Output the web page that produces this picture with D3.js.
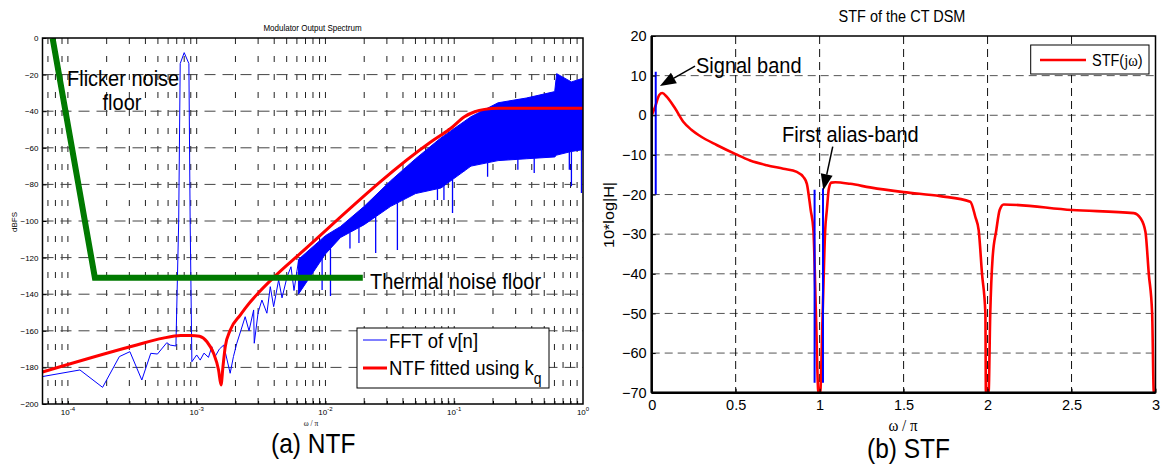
<!DOCTYPE html>
<html>
<head>
<meta charset="utf-8">
<script src="https://cdn.jsdelivr.net/npm/d3@7"></script>
<style>
  body { margin: 0; background: #fff; }
  text { font-family: "Liberation Sans", Arial, sans-serif; fill: #000; }
</style>
</head>
<body>
<svg id="chart" width="1161" height="464"></svg>
<script>
// ---------- (a) NTF panel : x = omega/pi (log), y = dBFS ----------
var ntfPoints = [[6.35e-5,-182.5],[3.2e-4,-168.3],[5.5e-4,-164],[7.5e-4,-162.6],[9e-4,-162.5],
  [1.052e-3,-163],[1.202e-3,-166],[1.352e-3,-172.3],[1.479e-3,-181.4],[1.545e-3,-189.6],
  [1.6e-3,-179.6],[1.667e-3,-168.7],[1.824e-3,-159.6],[2.18e-3,-151.4],[2.38e-3,-147.7],
  [3.97e-3,-130.8],[6.38e-3,-117.7],[0.0661,-56.7],[0.0942,-49.3],[0.120,-43],
  [0.1445,-40.3],[0.172,-39],[0.219,-38.4],[1,-38.4]];

var fftLowPoints = [[6.35e-5,-185],[1.24e-4,-181.4],[1.86e-4,-190.9],[2.51e-4,-174.1],[3.03e-4,-171.4],
  [3.75e-4,-186.9],[4.4e-4,-172.3],[4.96e-4,-172.7],[5.86e-4,-166.5],[6.22e-4,-167.8],[6.9e-4,-168.3],
  [7.25e-4,-100],[7.45e-4,-14],[8.0e-4,-8],[8.7e-4,-14],[8.9e-4,-100],[9.18e-4,-176.9],
  [1.0e-3,-173.2],[1.065e-3,-176],[1.14e-3,-172.2],[1.235e-3,-174.5],[1.31e-3,-168.7],[1.39e-3,-174.1],
  [1.5e-3,-170],[1.62e-3,-167.8],[1.82e-3,-183.2],[1.93e-3,-174.1],[2.05e-3,-166.8],[2.2e-3,-160],
  [2.38e-3,-152.3],[2.55e-3,-160],[2.77e-3,-148.6],[2.8e-3,-166.8],[3.0e-3,-150],[3.21e-3,-143.2],
  [3.51e-3,-150.4],[3.73e-3,-135.9],[3.96e-3,-146.8],[4.33e-3,-132.2],[4.6e-3,-142],[5.04e-3,-130.4],
  [5.4e-3,-125],[5.7e-3,-138],[6.19e-3,-121.3]];

// dense part of the FFT, read as upper / lower envelope
var noiseFreq   = [6.17e-3, 0.01, 0.0131, 0.02, 0.0321, 0.0501, 0.0787, 0.135, 0.219, 0.363, 0.603, 0.624, 0.813, 1];
var noiseTop    = [-121, -108, -103, -92, -78, -66, -54.6, -43, -35.4, -32.8, -29.3, -19.5, -24, -22];
var noiseBottom = [-140, -118, -109, -102, -92, -85, -82, -70, -67, -66, -65, -64, -62, -61];
var noiseSpikes = [[9.42e-3,-137.7],[0.01094,-141],[0.0155,-115],[0.0182,-112],[0.02455,-117.5],
  [0.0362,-115.8],[0.0741,-88.5],[0.0832,-88.5],[0.097,-95.6],[0.119,-72],[0.1816,-75.8],
  [0.312,-72],[0.418,-73.8],[0.783,-72],[0.813,-81],[0.973,-84.7]];

var floorPoints = [[7.6e-5,0],[1.62e-4,-131],[0.0195,-131]];

var ntfYTicks = d3.range(0, -201, -20);
var ntfXTicks = [1e-4, 1e-3, 1e-2, 1e-1, 1];
var ntfXExp = ["-4", "-3", "-2", "-1", "0"];

// ---------- (b) STF panel : x = omega/pi, y = 10*log|H| ----------
var stfPoints = [[0,0],[0.02,2.1],[0.045,5.1],[0.063,5.6],[0.089,4.7],[0.139,1.75],[0.188,-1.63],
  [0.238,-3.72],[0.288,-5.23],[0.387,-7.5],[0.5,-9.8],[0.586,-11.4],[0.685,-12.6],[0.784,-13.5],[0.864,-14.3],
  [0.904,-15.6],[0.924,-17.3],[0.947,-24],[0.963,-29],[0.978,-50],[0.993,-70],[1.003,-70],
  [1.018,-50],[1.033,-29],[1.043,-23.9],[1.055,-18.5],[1.07,-17],[1.093,-16.9],[1.182,-17.3],
  [1.3,-18.2],[1.5,-19.4],[1.718,-20.4],[1.897,-21.8],[1.927,-25.6],[1.947,-29],[1.967,-40],
  [1.987,-50],[1.99,-70],[2.006,-70],[2.016,-50],[2.03,-36],[2.052,-29],[2.072,-23.9],
  [2.096,-22.5],[2.503,-23.9],[2.871,-24.7],[2.911,-26],[2.94,-29.4],[2.96,-40],[2.98,-50],
  [2.99,-70],[3,-70]];

var bandMarkers = [[0.024, 11, -20], [0.97, -18.8, -67.5], [1.02, -18.4, -67.5]];

var stfYTicks = d3.range(20, -71, -10);
var stfXTicks = [0, 0.5, 1, 1.5, 2, 2.5, 3];

var stfNotes = ["Signal band", "First alias-band"];
var stfNoteTail = [[0.258, 12.4], [1.078, -7.9]];
var stfNoteHead = [[0.049, 7.4], [1.022, -18.9]];

// ---------- setup ----------
var svg = d3.select("#chart");
svg.append("rect").attr("width", 1161).attr("height", 464).attr("fill", "#fff");

var ax = d3.scaleLog().domain([6.35e-5, 1]).range([42.5, 583]);
var ay = d3.scaleLinear().domain([-200, 0]).range([404, 38]);
var bx = d3.scaleLinear().domain([0, 3]).range([651.7, 1155.5]);
var by = d3.scaleLinear().domain([-70, 20]).range([392.7, 36]);

// text slightly taller than wide, like the source image
function putText(g, x, y, str, size, anchor) {
  return g.append("text")
    .attr("transform", "translate(" + x + "," + y + ") scale(1,1.12)")
    .attr("font-size", size)
    .attr("text-anchor", anchor || "start")
    .text(str);
}

var defs = svg.append("defs");
defs.append("clipPath").attr("id", "clipA").append("rect")
  .attr("x", 42.5).attr("y", 38).attr("width", 583 - 42.5).attr("height", 404 - 38);
defs.append("clipPath").attr("id", "clipB").append("rect")
  .attr("x", 651.7).attr("y", 36).attr("width", 1155.5 - 651.7).attr("height", 392.7 - 36 + 2);

// ================= panel (a) =================
var pa = svg.append("g");

// grid: vertical at every log tick, horizontal every 20 dB
var minorX = [];
for (var d = -5; d <= 0; d++) {
  for (var k = 1; k <= 9; k++) {
    var v = k * Math.pow(10, d);
    if (v > 6.4e-5 && v < 1) minorX.push(v);
  }
}
pa.selectAll(".vgrid").data(minorX).enter().append("line")
  .attr("x1", function(d) { return ax(d); }).attr("x2", function(d) { return ax(d); })
  .attr("y1", 38).attr("y2", 404)
  .attr("stroke", "#222").attr("stroke-width", 1).attr("stroke-dasharray", "6,12");
pa.selectAll(".hgrid").data(ntfYTicks.filter(function(d) { return d < 0 && d > -200; })).enter().append("line")
  .attr("x1", 42.5).attr("x2", 583)
  .attr("y1", function(d) { return ay(d); }).attr("y2", function(d) { return ay(d); })
  .attr("stroke", "#444").attr("stroke-width", 1).attr("stroke-dasharray", "11,7");

var pac = pa.append("g").attr("clip-path", "url(#clipA)");

// FFT of v[n]
var bottomAt = d3.scaleLog().domain(noiseFreq).range(noiseBottom);
pac.append("path")
  .datum(d3.range(noiseFreq.length))
  .attr("d", d3.area()
    .x(function(i) { return ax(noiseFreq[i]); })
    .y0(function(i) { return ay(noiseBottom[i]); })
    .y1(function(i) { return ay(noiseTop[i]); }))
  .attr("fill", "#0000ff").attr("stroke", "#0000ff").attr("stroke-width", 1);
pac.selectAll(".spike").data(noiseSpikes).enter().append("line")
  .attr("x1", function(d) { return ax(d[0]); }).attr("x2", function(d) { return ax(d[0]); })
  .attr("y1", function(d) { return ay(bottomAt(d[0])); })
  .attr("y2", function(d) { return ay(d[1]); })
  .attr("stroke", "#0000ff").attr("stroke-width", 1.3);
pac.append("path")
  .datum(fftLowPoints)
  .attr("d", d3.line().x(function(d) { return ax(d[0]); }).y(function(d) { return ay(d[1]); }))
  .attr("fill", "none").attr("stroke", "#0000ff").attr("stroke-width", 1);

// NTF fitted
pac.append("path")
  .datum(ntfPoints)
  .attr("d", d3.line().curve(d3.curveMonotoneX).x(function(d) { return ax(d[0]); }).y(function(d) { return ay(d[1]); }))
  .attr("fill", "none").attr("stroke", "#ff0000").attr("stroke-width", 3);

// flicker / thermal floor
pac.append("path")
  .datum(floorPoints)
  .attr("d", d3.line().x(function(d) { return ax(d[0]); }).y(function(d) { return ay(d[1]); }))
  .attr("fill", "none").attr("stroke", "#007a00").attr("stroke-width", 6);

// axes
pa.append("g").attr("transform", "translate(42.5,0)")
  .call(d3.axisLeft(ay).tickValues(ntfYTicks).tickSize(-4).tickPadding(4))
  .call(function(g) { g.select(".domain").remove(); })
  .attr("font-size", 8).attr("font-family", "Liberation Sans, Arial, sans-serif");
pa.append("g").attr("transform", "translate(0,404)")
  .call(d3.axisBottom(ax).tickValues(minorX).tickSize(-3).tickFormat(""))
  .call(function(g) { g.select(".domain").remove(); });
pa.append("rect").attr("x", 42.5).attr("y", 38).attr("width", 583 - 42.5).attr("height", 404 - 38)
  .attr("fill", "none").attr("stroke", "#000").attr("stroke-width", 1.5);

var xl = pa.selectAll(".xlab").data(ntfXTicks).enter().append("text")
  .attr("x", function(d) { return ax(d); }).attr("y", 415)
  .attr("text-anchor", "middle").attr("font-size", 8);
xl.append("tspan").text("10");
xl.append("tspan").attr("dy", -4).attr("font-size", 6).text(function(d, i) { return ntfXExp[i]; });

putText(pa, 312.5, 31, "Modulator Output Spectrum", 8, "middle");
putText(pa, 311, 426, "\u03c9 / \u03c0", 7.5, "middle").style("font-family", "Liberation Serif, serif");
pa.append("text").attr("transform", "translate(17,222) rotate(-90)")
  .attr("text-anchor", "middle").attr("font-size", 8).text("dBFS");

putText(pa, 67, 86, "Flicker noise", 20);
putText(pa, 122, 110, "floor", 20, "middle");
putText(pa, 370, 289, "Thermal noise floor", 20);

// legend
pa.append("rect").attr("x", 357).attr("y", 328).attr("width", 192).attr("height", 60)
  .attr("fill", "#fff").attr("stroke", "#000").attr("stroke-width", 1);
pa.append("line").attr("x1", 363).attr("x2", 387).attr("y1", 340).attr("y2", 340)
  .attr("stroke", "#0000ff").attr("stroke-width", 1);
pa.append("line").attr("x1", 363).attr("x2", 387).attr("y1", 368).attr("y2", 368)
  .attr("stroke", "#ff0000").attr("stroke-width", 3);
putText(pa, 389, 348, "FFT of v[n]", 18.5);
var lt = putText(pa, 389, 375, "NTF fitted using k", 18.5);
lt.append("tspan").attr("dy", 8).attr("font-size", 14).text("q");

putText(pa, 271, 453, "(a) NTF", 24.5);

// ================= panel (b) =================
var pb = svg.append("g");

pb.selectAll(".hgrid").data(stfYTicks.filter(function(d) { return d < 20 && d > -70; })).enter().append("line")
  .attr("x1", 651.7).attr("x2", 1155.5)
  .attr("y1", function(d) { return by(d); }).attr("y2", function(d) { return by(d); })
  .attr("stroke", "#555").attr("stroke-width", 1).attr("stroke-dasharray", "8,5");
pb.selectAll(".vgrid").data(stfXTicks.filter(function(d) { return d > 0 && d < 3; })).enter().append("line")
  .attr("x1", function(d) { return bx(d); }).attr("x2", function(d) { return bx(d); })
  .attr("y1", 36).attr("y2", 392.7)
  .attr("stroke", "#111").attr("stroke-width", 1).attr("stroke-dasharray", "8,5");

var pbc = pb.append("g").attr("clip-path", "url(#clipB)");
pbc.append("path")
  .datum(stfPoints)
  .attr("d", d3.line().curve(d3.curveMonotoneX).x(function(d) { return bx(d[0]); }).y(function(d) { return by(d[1]); }))
  .attr("fill", "none").attr("stroke", "#ff0000").attr("stroke-width", 2.6)
  .attr("stroke-linejoin", "round");
pbc.selectAll(".band").data(bandMarkers).enter().append("line")
  .attr("x1", function(d) { return bx(d[0]); }).attr("x2", function(d) { return bx(d[0]); })
  .attr("y1", function(d) { return by(d[1]); }).attr("y2", function(d) { return by(d[2]); })
  .attr("stroke", "#0000ff").attr("stroke-width", 2);

pb.append("g").attr("transform", "translate(651.7,0)")
  .call(d3.axisLeft(by).tickValues(stfYTicks).tickSize(-4).tickPadding(5))
  .call(function(g) { g.select(".domain").remove(); })
  .attr("font-size", 14.5).attr("font-family", "Liberation Sans, Arial, sans-serif");
pb.append("g").attr("transform", "translate(0,392.7)")
  .call(d3.axisBottom(bx).tickValues(stfXTicks).tickSize(-4).tickPadding(7).tickFormat(d3.format("")))
  .call(function(g) { g.select(".domain").remove(); })
  .attr("font-size", 14.5).attr("font-family", "Liberation Sans, Arial, sans-serif");
pb.append("rect").attr("x", 651.7).attr("y", 36).attr("width", 1155.5 - 651.7).attr("height", 392.7 - 36)
  .attr("fill", "none").attr("stroke", "#000").attr("stroke-width", 1.5);
pb.append("line").attr("x1", 651.7).attr("x2", 1155.5).attr("y1", 392.7).attr("y2", 392.7)
  .attr("stroke", "#000").attr("stroke-width", 2.5);
pb.append("line").attr("x1", 651.7).attr("x2", 651.7).attr("y1", 36).attr("y2", 392.7)
  .attr("stroke", "#000").attr("stroke-width", 2.5);

putText(pb, 902, 22, "STF of the CT DSM", 14.5, "middle");
pb.append("text").attr("transform", "translate(614,215) rotate(-90) scale(1.12,1)")
  .attr("text-anchor", "middle").attr("font-size", 14.5).text("10*log|H|");
putText(pb, 903, 431, "\u03c9 / \u03c0", 15, "middle").style("font-family", "Liberation Serif, serif");

// legend
pb.append("rect").attr("x", 1030.7).attr("y", 45).attr("width", 118.3).attr("height", 29)
  .attr("fill", "#fff").attr("stroke", "#000").attr("stroke-width", 1);
pb.append("line").attr("x1", 1040).attr("x2", 1086).attr("y1", 60).attr("y2", 60)
  .attr("stroke", "#ff0000").attr("stroke-width", 2.6);
var sl = putText(pb, 1092, 66, "STF(", 14.5);
sl.append("tspan").style("font-family", "Liberation Serif, serif").text("j\u03c9");
sl.append("tspan").text(")");

// annotations with arrows
stfNotes.forEach(function(t, i) {
  var x1 = bx(stfNoteTail[i][0]), y1 = by(stfNoteTail[i][1]);
  var x2 = bx(stfNoteHead[i][0]), y2 = by(stfNoteHead[i][1]);
  var a = Math.atan2(y2 - y1, x2 - x1), L = 16, W = 6;
  var bxp = x2 - L * Math.cos(a), byp = y2 - L * Math.sin(a);
  pb.append("line").attr("x1", x1).attr("y1", y1).attr("x2", bxp).attr("y2", byp)
    .attr("stroke", "#000").attr("stroke-width", 1.5);
  pb.append("path")
    .attr("d", "M" + x2 + "," + y2 +
      "L" + (bxp + W * Math.sin(a)) + "," + (byp - W * Math.cos(a)) +
      "L" + (bxp - W * Math.sin(a)) + "," + (byp + W * Math.cos(a)) + "Z")
    .attr("fill", "#000");
});
putText(pb, 696, 72.5, stfNotes[0], 20);
putText(pb, 782, 141.5, stfNotes[1], 20);

putText(pb, 867, 458, "(b) STF", 24.5);
</script>
</body>
</html>
